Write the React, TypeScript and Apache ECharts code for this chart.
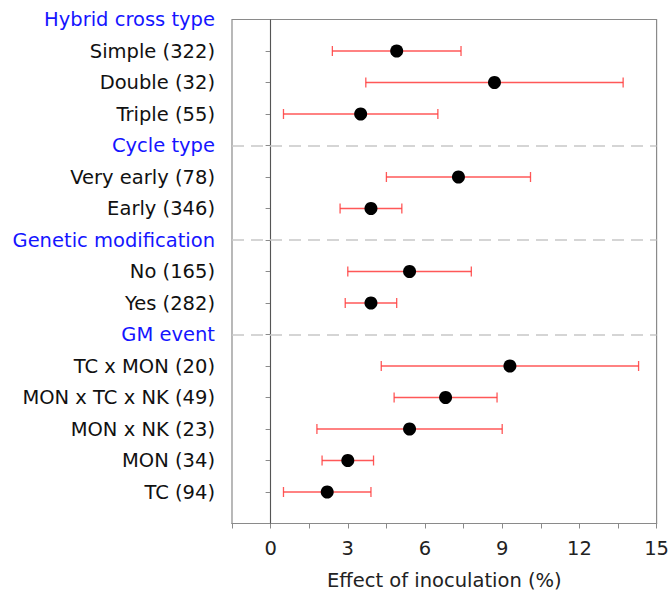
import React, { useEffect, useRef } from "react";
import * as echarts from "echarts";

const groupHeaders = ["Hybrid cross type", "Cycle type", "Genetic modification", "GM event"];
const groupSizes = [3, 2, 2, 5];
const categories = [
  "Simple (322)", "Double (32)", "Triple (55)",
  "Very early (78)", "Early (346)",
  "No (165)", "Yes (282)",
  "TC x MON (20)", "MON x TC x NK (49)", "MON x NK (23)", "MON (34)", "TC (94)",
];
const effect = [4.9, 8.7, 3.5, 7.3, 3.9, 5.4, 3.9, 9.3, 6.8, 5.4, 3.0, 2.2];
const lower = [2.4, 3.7, 0.5, 4.5, 2.7, 3.0, 2.9, 4.3, 4.8, 1.8, 2.0, 0.5];
const upper = [7.4, 13.7, 6.5, 10.1, 5.1, 7.8, 4.9, 14.3, 8.8, 9.0, 4.0, 3.9];
const xTicks = [0, 3, 6, 9, 12, 15];

const FONT = "'DejaVu Sans', sans-serif";
const FS = 19.5;

export default function App() {
  const ref = useRef<HTMLDivElement>(null);
  useEffect(() => {
    if (!ref.current) return;
    const chart = echarts.init(ref.current, null, { renderer: "svg" });

    // Build rows from top to bottom
    const rows: { label: string; header: boolean; idx: number }[] = [];
    let c = 0;
    groupHeaders.forEach((h, g) => {
      rows.push({ label: h, header: true, idx: -1 });
      for (let k = 0; k < groupSizes[g]; k++) {
        rows.push({ label: categories[c], header: false, idx: c });
        c++;
      }
    });
    const nRows = rows.length;
    const labelByY: Record<number, { label: string; header: boolean }> = {};
    const itemY: number[] = [];
    const headerY: number[] = [];
    rows.forEach((r, i) => {
      const y = nRows - i;
      labelByY[y] = { label: r.label, header: r.header };
      if (r.header) headerY.push(y);
      else itemY[r.idx] = y;
    });

    const errData = categories.map((_, i) => [lower[i], upper[i], itemY[i]]);
    const ptData = categories.map((_, i) => [effect[i], itemY[i]]);

    chart.setOption({
      animation: false,
      grid: {
        left: 232,
        right: 13.5,
        top: 19.5,
        bottom: 74.5,
        show: true,
        borderColor: "#8a8a8a",
        borderWidth: 1.2,
      },
      xAxis: {
        type: "value",
        min: -1.5,
        max: 15,
        interval: 1.5,
        axisLine: { show: true, lineStyle: { color: "#8a8a8a", width: 1.2 } },
        axisTick: { show: true, length: 5, lineStyle: { color: "#8a8a8a" } },
        splitLine: { show: false },
        axisLabel: {
          fontSize: FS,
          fontFamily: FONT,
          color: "#222",
          margin: 15,
          formatter: (v: number) => (xTicks.includes(v) ? String(v) : ""),
        },
        name: "Effect of inoculation (%)",
        nameLocation: "middle",
        nameGap: 47,
        nameTextStyle: { fontSize: FS, fontFamily: FONT, color: "#222" },
      },
      yAxis: {
        type: "value",
        min: 0,
        max: nRows,
        interval: 1,
        axisLine: { show: true, lineStyle: { color: "#8a8a8a", width: 1.2 } },
        axisTick: { show: true, length: 5, lineStyle: { color: "#8a8a8a" } },
        splitLine: { show: false },
        axisLabel: {
          fontSize: FS,
          fontFamily: FONT,
          color: "#111",
          margin: 17,
          formatter: (v: number) => {
            const e = labelByY[v];
            if (!e) return "";
            return e.header ? `{h|${e.label}}` : `{n|${e.label}}`;
          },
          rich: {
            h: { color: "#1515ff", fontSize: FS, fontFamily: FONT },
            n: { color: "#111", fontSize: FS, fontFamily: FONT },
          },
        },
      },
      series: [
        {
          type: "custom",
          z: 2,
          data: errData,
          renderItem: (params: any, api: any) => {
            const lo = api.coord([api.value(0), api.value(2)]);
            const hi = api.coord([api.value(1), api.value(2)]);
            const cap = 5;
            const style = { stroke: "#ff3b3b", lineWidth: 1.3, opacity: 0.85 };
            return {
              type: "group",
              children: [
                { type: "line", shape: { x1: lo[0], y1: lo[1], x2: hi[0], y2: hi[1] }, style },
                { type: "line", shape: { x1: lo[0], y1: lo[1] - cap, x2: lo[0], y2: lo[1] + cap }, style },
                { type: "line", shape: { x1: hi[0], y1: hi[1] - cap, x2: hi[0], y2: hi[1] + cap }, style },
              ],
            };
          },
          markLine: {
            silent: true,
            symbol: "none",
            label: { show: false },
            data: [
              { xAxis: 0, lineStyle: { color: "#555", width: 1, type: "solid" } },
              ...headerY
                .filter((y) => y !== nRows)
                .map((y) => ({ yAxis: y, lineStyle: { color: "#c8c8c8", width: 1.5, type: [12, 7] } })),
            ],
          },
        },
        {
          type: "scatter",
          z: 3,
          data: ptData,
          symbol: "circle",
          symbolSize: 13,
          itemStyle: { color: "#000", opacity: 1 },
        },
      ],
    });
    return () => chart.dispose();
  }, []);
  return <div ref={ref} style={{ position: "absolute", left: 0, top: 0, width: 672, height: 598 }} />;
}
